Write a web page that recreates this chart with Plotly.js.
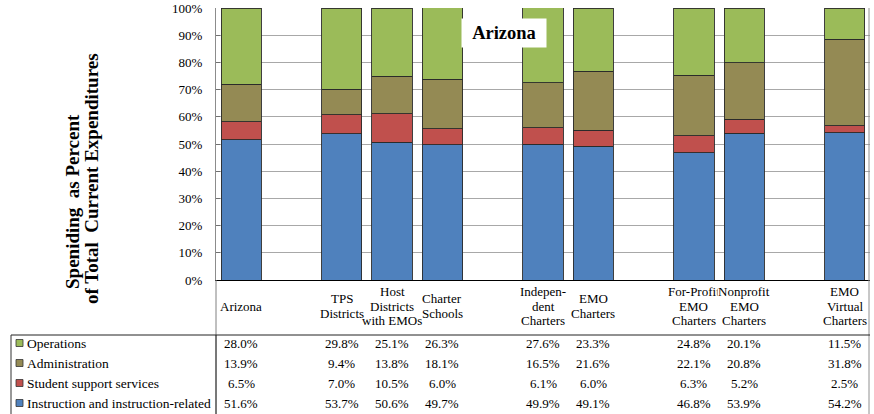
<!DOCTYPE html>
<html>
<head>
<meta charset="utf-8">
<script src="https://cdn.plot.ly/plotly-3.0.1.min.js"></script>
<style>html,body{margin:0;padding:0;background:#fff;}#chart{width:874px;height:414px;}</style>
</head>
<body>
<div id="chart"></div>
<script>
// ---- data ----
const categories = ["Arizona", "TPS Districts", "Host Districts with EMOs", "Charter Schools",
  "Independent Charters", "EMO Charters", "For-Profit EMO Charters", "Nonprofit EMO Charters", "EMO Virtual Charters"];
const headerLabels = ["Arizona", "TPS<br>Districts", "Host<br>Districts<br>with EMOs", "Charter<br>Schools",
  "Indepen-<br>dent<br>Charters", "EMO<br>Charters", "For-Profit<br>EMO<br>Charters", "Nonprofit<br>EMO<br>Charters", "EMO<br>Virtual<br>Charters"];
// slot order including blank spacer slots (null)
const slots = ["Arizona", null, "TPS Districts", "Host Districts with EMOs", "Charter Schools", null,
  "Independent Charters", "EMO Charters", null, "For-Profit EMO Charters", "Nonprofit EMO Charters", null, "EMO Virtual Charters"];
const seriesNames = ["Operations", "Administration", "Student support services", "Instruction and instruction-related"];
const operations = [28.0, 29.8, 25.1, 26.3, 27.6, 23.3, 24.8, 20.1, 11.5];
const administration = [13.9, 9.4, 13.8, 18.1, 16.5, 21.6, 22.1, 20.8, 31.8];
const studentSupport = [6.5, 7.0, 10.5, 6.0, 6.1, 6.0, 6.3, 5.2, 2.5];
const instruction = [51.6, 53.7, 50.6, 49.7, 49.9, 49.1, 46.8, 53.9, 54.2];
const yTickVals = [0, 10, 20, 30, 40, 50, 60, 70, 80, 90, 100];
const chartTitle = "Arizona";
const yTitleLines = ["Speniding\u00a0 as Percent", "of Total\u00a0 Current Expenditures"];

// ---- styles / geometry ----
const colors = {Operations: "#9BBB59", Administration: "#948A54", "Student support services": "#C0504D", "Instruction and instruction-related": "#4F81BD"};
const serif = "Liberation Serif";
const W = 874, H = 414, PL = 216, PR = 870, PT = 8, PB = 280;
const px = X => (X - PL) / (PR - PL);
const py = Y => (PB - Y) / (PB - PT);
const xPos = categories.map(c => slots.indexOf(c));
const rowY = [343, 363, 383, 403];
const seriesVals = {"Operations": operations, "Administration": administration,
  "Student support services": studentSupport, "Instruction and instruction-related": instruction};

// stacked bottom -> top
const stackOrder = ["Instruction and instruction-related", "Student support services", "Administration", "Operations"];
const traces = stackOrder.map(name => ({
  type: "bar", name: name, x: xPos, y: seriesVals[name], width: 0.8,
  marker: {color: colors[name], line: {color: "#2a2a2a", width: 0.9}},
  hoverinfo: "skip"
}));

const annotations = [];
const shapes = [];
headerLabels.forEach((lab, i) => {
  const lines = lab.split("<br>");
  const n = lines.length;
  lines.forEach((ln, k) => {
    const a = {xref: "x", yref: "paper", x: xPos[i], y: py(306 + (k - (n - 1) / 2) * 14.5),
      text: ln, showarrow: false, xanchor: "center", yanchor: "middle",
      font: {family: serif, size: 13, color: "#000"}, borderpad: 0};
    // the Nonprofit label sits over the clipped end of "For-Profit"
    if (categories[i] === "Nonprofit EMO Charters" && k === 0) a.bgcolor = "#fff";
    annotations.push(a);
  });
});
seriesNames.forEach((name, r) => {
  const Y = rowY[r];
  shapes.push({type: "rect", xref: "paper", yref: "paper", x0: px(16), x1: px(23), y0: py(Y - 3.5), y1: py(Y + 3.5),
    fillcolor: colors[name], line: {color: "#333", width: 0.8}});
  annotations.push({xref: "paper", yref: "paper", x: px(25), y: py(Y), text: name, showarrow: false,
    xanchor: "left", yanchor: "middle", font: {family: serif, size: 13.5, color: "#000"}});
  seriesVals[name].forEach((v, i) => {
    annotations.push({xref: "x", yref: "paper", x: xPos[i], y: py(Y), text: v.toFixed(1) + "%", showarrow: false,
      xanchor: "center", yanchor: "middle", font: {family: serif, size: 13, color: "#000"}});
  });
});
annotations.push({xref: "paper", yref: "paper", x: px(504), y: py(33), text: "<b>" + chartTitle + "</b>", showarrow: false,
  xanchor: "center", yanchor: "middle", font: {family: serif, size: 18.5, color: "#000"}, bgcolor: "#fff", width: 82, height: 26});
annotations.push({xref: "paper", yref: "paper", x: px(72), y: py(202), text: "<b>" + yTitleLines[0] + "</b>", showarrow: false,
  textangle: -90, xanchor: "center", yanchor: "middle", font: {family: serif, size: 19, color: "#000"}});
annotations.push({xref: "paper", yref: "paper", x: px(91), y: py(179), text: "<b>" + yTitleLines[1] + "</b>", showarrow: false,
  textangle: -90, xanchor: "center", yanchor: "middle", font: {family: serif, size: 19, color: "#000"}});

shapes.push({type: "line", xref: "paper", yref: "paper", x0: px(216), x1: px(216), y0: py(PB), y1: py(414), line: {color: "#808080", width: 1}});
shapes.push({type: "line", xref: "paper", yref: "paper", x0: px(216), x1: px(216), y0: py(335), y1: py(414), line: {color: "#333", width: 1}});
shapes.push({type: "line", xref: "paper", yref: "paper", x0: px(869), x1: px(869), y0: py(PT), y1: py(414), line: {color: "#909090", width: 1}});
shapes.push({type: "line", xref: "paper", yref: "paper", x0: px(11), x1: px(870), y0: py(335), y1: py(335), line: {color: "#222", width: 1}});
shapes.push({type: "line", xref: "paper", yref: "paper", x0: px(11), x1: px(11), y0: py(335), y1: py(414), line: {color: "#333", width: 1}});

const layout = {
  width: W, height: H, margin: {l: PL, r: W - PR, t: PT, b: H - PB},
  font: {family: serif},
  paper_bgcolor: "#fff", plot_bgcolor: "#fff", barmode: "stack", showlegend: false,
  xaxis: {range: [-0.5, slots.length - 0.5], showticklabels: false, showgrid: false, zeroline: false,
    showline: true, linecolor: "#000", linewidth: 1, ticks: "", fixedrange: true},
  yaxis: {range: [0, 100], tickvals: yTickVals, ticktext: yTickVals.map(v => v + "%"),
    showgrid: true, gridcolor: "#a8a8a8", gridwidth: 1, zeroline: false,
    showline: true, linecolor: "#8c8c8c", linewidth: 1, ticks: "inside", ticklen: 4, tickcolor: "#707070",
    tickfont: {family: serif, size: 13, color: "#000"}, ticklabelstandoff: 10, fixedrange: true},
  annotations: annotations, shapes: shapes, hovermode: false
};
Plotly.newPlot("chart", traces, layout, {displayModeBar: false, staticPlot: true});
</script>
</body>
</html>
